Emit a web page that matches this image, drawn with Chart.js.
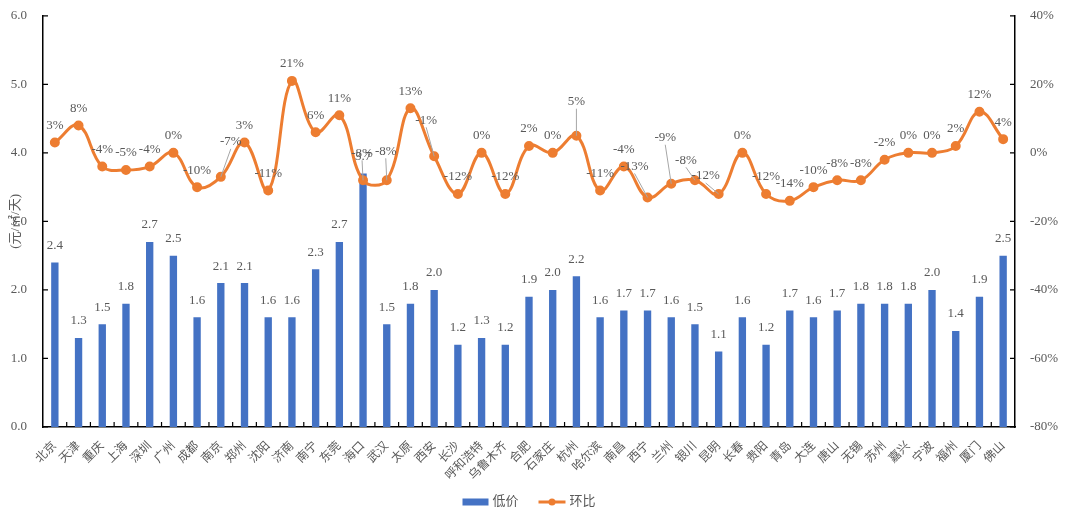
<!DOCTYPE html>
<html lang="zh-CN">
<head>
<meta charset="utf-8">
<title>低价与环比</title>
<script src="https://cdn.jsdelivr.net/npm/chart.js@4.4.1/dist/chart.umd.min.js"></script>
<style>
  html, body { margin: 0; padding: 0; background: #fff; }
</style>
</head>
<body>
<canvas id="chart" width="1080" height="522"></canvas>
<script>
const cities = ["北京","天津","重庆","上海","深圳","广州","成都","南京","郑州","沈阳","济南","南宁","东莞","海口",
  "武汉","太原","西安","长沙","呼和浩特","乌鲁木齐","合肥","石家庄","杭州","哈尔滨","南昌","西宁","兰州","银川",
  "昆明","长春","贵阳","青岛","大连","唐山","无锡","苏州","嘉兴","宁波","福州","厦门","佛山"];

// 低价 (元/㎡/天)
const lowPrice = [2.4,1.3,1.5,1.8,2.7,2.5,1.6,2.1,2.1,1.6,1.6,2.3,2.7,3.7,
  1.5,1.8,2.0,1.2,1.3,1.2,1.9,2.0,2.2,1.6,1.7,1.7,1.6,1.5,
  1.1,1.6,1.2,1.7,1.6,1.7,1.8,1.8,1.8,2.0,1.4,1.9,2.5];

// 环比 (%)
const momPct = [3,8,-4,-5,-4,0,-10,-7,3,-11,21,6,11,-8,
  -8,13,-1,-12,0,-12,2,0,5,-11,-4,-13,-9,-8,
  -12,0,-12,-14,-10,-8,-8,-2,0,0,2,12,4];

const FONT = "'Liberation Serif', 'Noto Sans CJK SC', serif";
const GREY = "#595959";
const BLUE = "#4472C4";
const ORANGE = "#ED7D31";

// 环比标签被挪开的几个点: 下标 -> [dx, dy]，其余默认在点上方
const nudges = { 7:[10,-35], 13:[-1,-27], 14:[-1,-29], 16:[-8,-36], 22:[0,-34],
  25:[-13,-31], 26:[-6,-46], 27:[-9,-20], 28:[-13,-18] };

/* ---------- 数据标签 ---------- */
const valueLabels = {
  id: "valueLabels",
  afterDatasetsDraw(chart) {
    const ctx = chart.ctx;
    ctx.save();
    ctx.font = `13px ${FONT}`;
    ctx.textAlign = "center";
    ctx.textBaseline = "middle";
    ctx.fillStyle = GREY;
    chart.getDatasetMeta(0).data.forEach((bar, i) => {
      ctx.fillText(lowPrice[i].toFixed(1), bar.x, bar.y - 17);
    });
    chart.getDatasetMeta(1).data.forEach((pt, i) => {
      const [dx, dy] = nudges[i] || [0, -17];
      const lx = pt.x + dx, ly = pt.y + dy;
      if (nudges[i]) {
        ctx.strokeStyle = "#a6a6a6";
        ctx.lineWidth = 1;
        ctx.beginPath();
        ctx.moveTo(lx, ly + 7);
        ctx.lineTo(pt.x, pt.y);
        ctx.stroke();
      }
      ctx.fillText(momPct[i] + "%", lx, ly);
    });
    ctx.restore();
  }
};

/* ---------- 坐标轴内侧刻度 + 图例 ---------- */
const axisExtras = {
  id: "axisExtras",
  afterDraw(chart) {
    const { ctx, chartArea: a, scales } = chart;
    ctx.save();
    ctx.strokeStyle = "#000";
    ctx.lineWidth = 1.2;
    ctx.beginPath();
    scales.y.ticks.forEach(t => {
      const y = scales.y.getPixelForValue(t.value);
      ctx.moveTo(a.left, y); ctx.lineTo(a.left + 5, y);
    });
    scales.y1.ticks.forEach(t => {
      const y = scales.y1.getPixelForValue(t.value);
      ctx.moveTo(a.right, y); ctx.lineTo(a.right - 5, y);
    });
    for (let i = 1; i < cities.length; i++) {
      const x = (scales.x.getPixelForValue(i - 1) + scales.x.getPixelForValue(i)) / 2;
      ctx.moveTo(x, a.bottom); ctx.lineTo(x, a.bottom - 5);
    }
    ctx.stroke();

    // 图例
    ctx.font = `13px ${FONT}`;
    ctx.textBaseline = "middle";
    ctx.textAlign = "left";
    const w1 = ctx.measureText("低价").width, w2 = ctx.measureText("环比").width;
    const total = 26 + 4 + w1 + 20 + 27 + 4 + w2;
    let x = (a.left + a.right) / 2 - total / 2;
    const y = 502;
    ctx.fillStyle = BLUE;
    ctx.fillRect(x, y - 3.5, 26, 7);
    x += 30;
    ctx.fillStyle = GREY;
    ctx.fillText("低价", x, y);
    x += w1 + 20;
    ctx.strokeStyle = ORANGE;
    ctx.lineWidth = 3;
    ctx.beginPath(); ctx.moveTo(x, y); ctx.lineTo(x + 27, y); ctx.stroke();
    ctx.fillStyle = ORANGE;
    ctx.beginPath(); ctx.arc(x + 13.5, y, 3.5, 0, Math.PI * 2); ctx.fill();
    x += 31;
    ctx.fillStyle = GREY;
    ctx.fillText("环比", x, y);
    ctx.restore();
  }
};

new Chart(document.getElementById("chart"), {
  type: "bar",
  data: {
    labels: cities,
    datasets: [
      { type: "bar", label: "低价", data: lowPrice, yAxisID: "y", order: 2,
        backgroundColor: BLUE, barPercentage: 0.31, categoryPercentage: 1 },
      { type: "line", label: "环比", data: momPct, yAxisID: "y1", order: 1,
        borderColor: ORANGE, backgroundColor: ORANGE, borderWidth: 3,
        pointRadius: 3.5, pointHoverRadius: 3.5, tension: 0.4, fill: false }
    ]
  },
  options: {
    responsive: false,
    animation: false,
    layout: { padding: { top: 14 } },
    plugins: { legend: { display: false }, tooltip: { enabled: false } },
    scales: {
      x: {
        grid: { display: false },
        border: { color: "#000", width: 1.5 },
        ticks: { autoSkip: false, minRotation: 45, maxRotation: 45, padding: 4,
          color: GREY, font: { size: 12, family: FONT } },
        afterFit: s => { s.height = 95; }
      },
      y: {
        position: "left", min: 0, max: 6,
        grid: { display: false },
        border: { color: "#000", width: 1.5 },
        ticks: { stepSize: 1, padding: 8, color: GREY, font: { size: 13, family: FONT },
          callback: v => v.toFixed(1) },
        title: { display: true, text: "(元/㎡/天)", color: GREY,
          font: { size: 13, family: FONT }, padding: { top: 8, bottom: 0 } },
        afterFit: s => { s.width = 43; }
      },
      y1: {
        position: "right", min: -80, max: 40,
        grid: { display: false },
        border: { color: "#000", width: 1.5 },
        ticks: { stepSize: 20, padding: 7, color: GREY, font: { size: 13, family: FONT },
          callback: v => v + "%" },
        afterFit: s => { s.width = 65; }
      }
    }
  },
  plugins: [valueLabels, axisExtras]
});
</script>
</body>
</html>
